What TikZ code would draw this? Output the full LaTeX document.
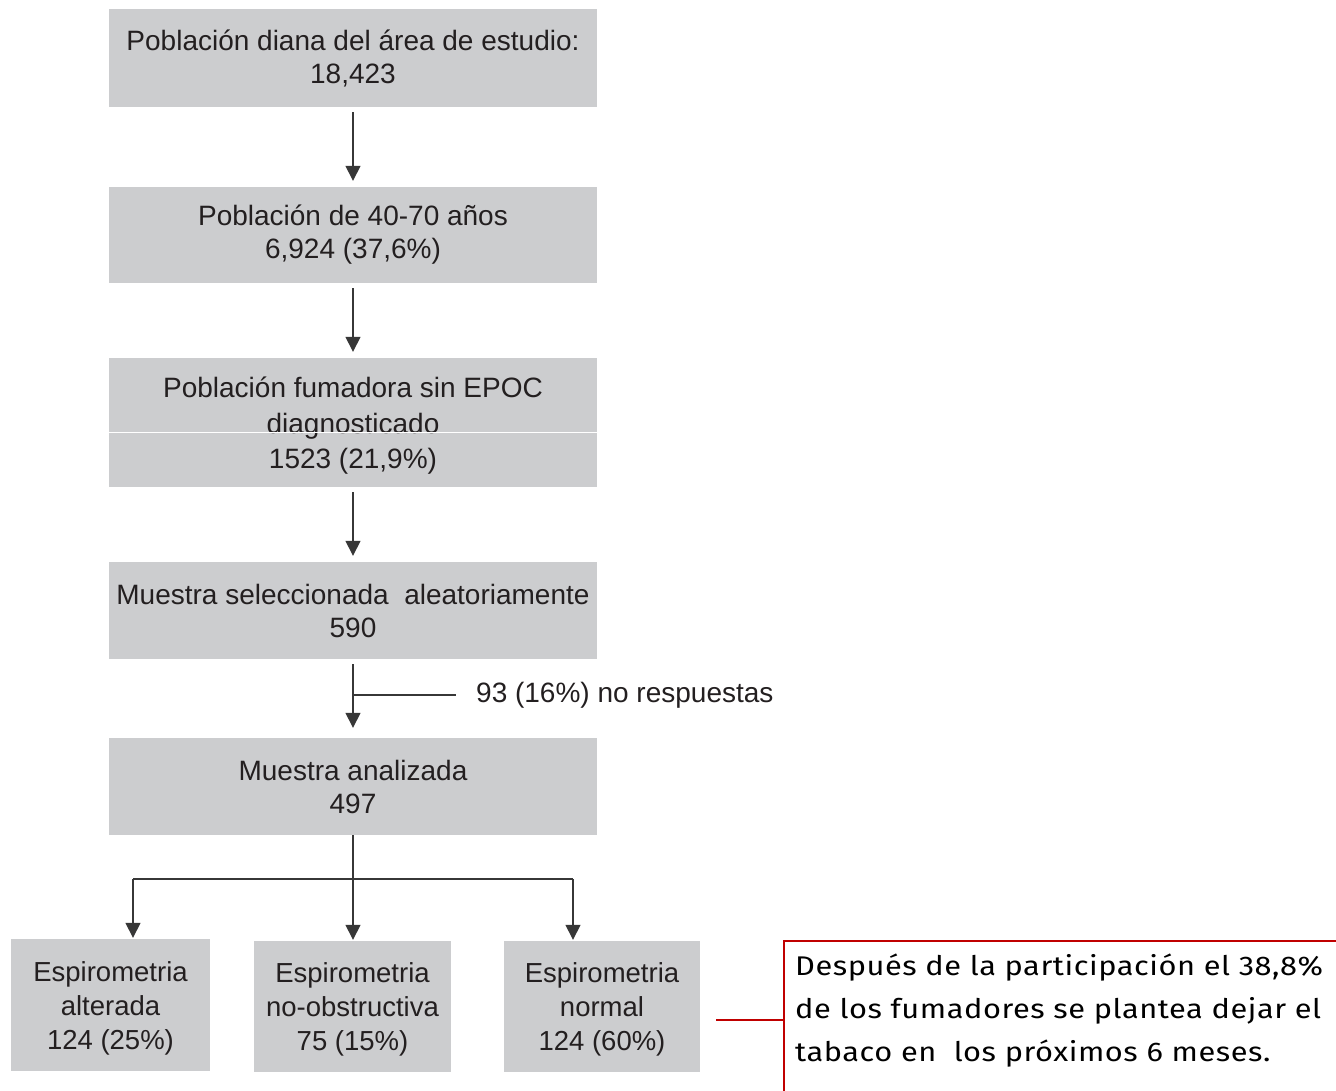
\documentclass[tikz,border=0pt]{standalone}
\usepackage{fontspec}
\setmainfont{Liberation Sans}
\newfontfamily\notefont[FakeStretch=1.14,LetterSpace=2]{Fira Sans}
\usetikzlibrary{arrows.meta}
\definecolor{boxgray}{RGB}{204,205,207}
\definecolor{txt}{RGB}{35,31,32}
\definecolor{arr}{RGB}{55,55,55}
\definecolor{noteRed}{RGB}{192,0,0}
\tikzset{
  flowbox/.style={fill=boxgray, draw=none, align=center, text=txt, inner sep=0pt,
    font=\fontsize{28}{33}\selectfont},
  smallbox/.style={flowbox, font=\fontsize{27.5}{34}\selectfont},
  conn/.style={draw=arr, line width=1.5pt},
  arrowconn/.style={conn, -{Triangle[length=15pt,width=15pt]}},
}
\begin{document}
\begin{tikzpicture}[x=1pt,y=-1pt]
\useasboundingbox (0,0) rectangle (1336,1091);
% main chain
\node[flowbox, minimum width=488pt, minimum height=98pt] (b1) at (353,58)
  {Población diana del área de estudio:\\18,423};
\node[flowbox, minimum width=488pt, minimum height=96pt] (b2) at (353,235)
  {Población de 40-70 años\\6,924 (37,6\%)};
\node[flowbox, minimum width=488pt, minimum height=129pt,
  font=\fontsize{28}{35.5}\selectfont] (b3) at (353,422.5)
  {\rule{0pt}{27pt}Población fumadora sin EPOC\\diagnosticado\\1523 (21,9\%)};
\draw[white, line width=1pt] (b3.west |- 0,432) -- (b3.east |- 0,432);
\node[flowbox, minimum width=488pt, minimum height=97pt] (b4) at (353,610.5)
  {Muestra seleccionada\ \ aleatoriamente\\590};
\node[flowbox, minimum width=488pt, minimum height=97pt] (b5) at (353,786.5)
  {Muestra analizada\\497};
% bottom boxes
\node[smallbox, minimum width=199pt, minimum height=132pt] (bA) at (110.5,1005)
  {\rule{0pt}{26pt}Espirometria\\alterada\\124 (25\%)};
\node[smallbox, minimum width=197pt, minimum height=131pt] (bB) at (352.5,1006.5)
  {\rule{0pt}{26pt}Espirometria\\no-obstructiva\\75 (15\%)};
\node[smallbox, minimum width=196pt, minimum height=131pt] (bC) at (602,1006.5)
  {\rule{0pt}{26pt}Espirometria\\normal\\124 (60\%)};
% arrows
\draw[arrowconn, shorten <=5pt, shorten >=6pt] (b1.south) -- (b2.north);
\draw[arrowconn, shorten <=5pt, shorten >=6pt] (b2.south) -- (b3.north);
\draw[arrowconn, shorten <=5pt, shorten >=6pt] (b3.south) -- (b4.north);
\draw[arrowconn, shorten <=5pt, shorten >=10pt] (b4.south) -- (b5.north);
% no-response side line
\coordinate (side) at (353,695);
\coordinate (sideend) at (456,695);
\draw[conn] (side) -- (sideend);
\node[anchor=west, inner sep=0pt, text=txt, font=\fontsize{28}{33}\selectfont] (nores) at (476,695)
  {93 (16\%) no respuestas};
% branching
\coordinate (split) at (353,879);
\coordinate (splitL) at (133,879);
\coordinate (splitR) at (573,879);
\draw[conn] (b5.south) -- (split);
\draw[conn] (splitL) -- (splitR);
\draw[arrowconn, shorten >=1pt] (splitL) -- (splitL |- bA.north);
\draw[arrowconn, shorten >=1pt] (split) -- (split |- bB.north);
\draw[arrowconn, shorten >=1pt] (splitR) -- (splitR |- bC.north);
% note box
\node[draw=noteRed, line width=2pt, anchor=north west, minimum width=600pt, minimum height=200pt,
  inner sep=0pt] (note) at (783,940) {};
\node[anchor=west, align=left, inner sep=0pt, text=black,
  font=\notefont\fontsize{27}{43}\selectfont] (notetext) at (795,1011)
  {Después de la participación el 38,8\%\\de los fumadores se\ plantea dejar el\\tabaco en\ \ los próximos 6 meses.};
\coordinate (notestart) at (716,1020);
\draw[draw=noteRed, line width=1.5pt] (notestart) -- (notestart -| note.west);
\end{tikzpicture}
\end{document}
